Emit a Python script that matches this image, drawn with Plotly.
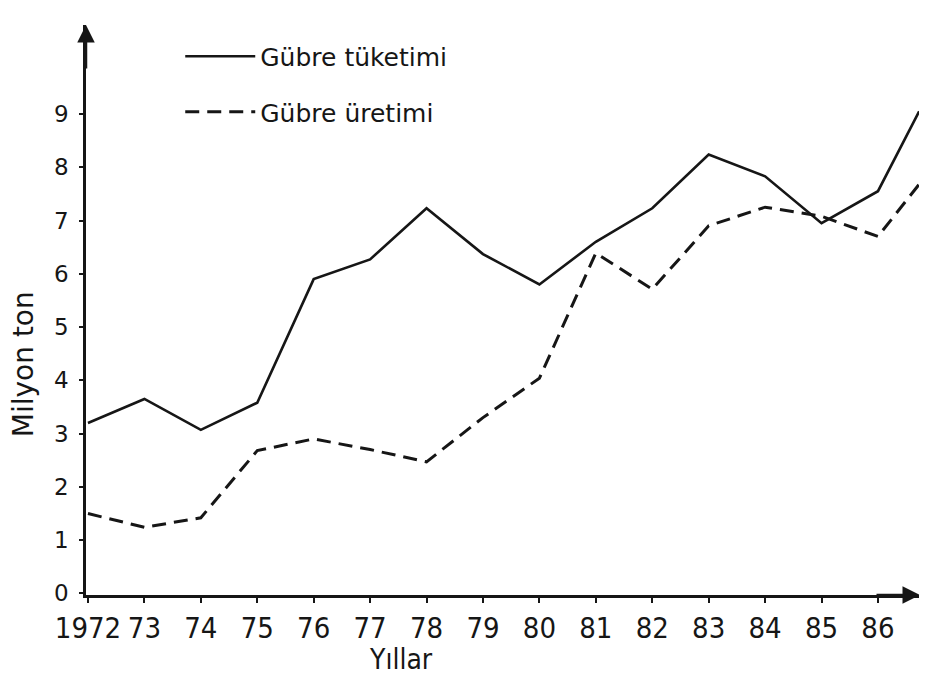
import plotly.graph_objects as go

# Data (million tons)
years = [1972, 1973, 1974, 1975, 1976, 1977, 1978, 1979, 1980, 1981, 1982, 1983, 1984, 1985, 1986, 1986.73]
consumption = [3.2, 3.65, 3.07, 3.58, 5.9, 6.27, 7.23, 6.37, 5.8, 6.6, 7.23, 8.24, 7.83, 6.95, 7.55, 9.05]
production = [1.5, 1.24, 1.42, 2.68, 2.9, 2.7, 2.47, 3.3, 4.04, 6.39, 5.71, 6.9, 7.25, 7.08, 6.7, 7.68]

tick_years = [1972, 1973, 1974, 1975, 1976, 1977, 1978, 1979, 1980, 1981, 1982, 1983, 1984, 1985, 1986]
tick_labels = ["1972", "73", "74", "75", "76", "77", "78", "79", "80", "81", "82", "83", "84", "85", "86"]
y_ticks = [0, 1, 2, 3, 4, 5, 6, 7, 8, 9]

INK = "#161616"
NARROW = "Liberation Sans Narrow, DejaVu Sans Condensed"

fig = go.Figure()
fig.add_trace(go.Scatter(
    x=years, y=consumption, mode="lines", name="Gübre tüketimi",
    line=dict(color=INK, width=2.6), legendgroup="a",
))
fig.add_trace(go.Scatter(
    x=years, y=production, mode="lines", name="Gübre üretimi",
    line=dict(color=INK, width=3, dash="14px,8px"), legendgroup="b",
))

fig.update_layout(
    width=919, height=671,
    margin=dict(l=78, r=7, t=17, b=84),
    paper_bgcolor="white", plot_bgcolor="white",
    showlegend=True,
    legend=dict(
        x=0.113, y=0.985, xanchor="left", yanchor="top",
        font=dict(family="DejaVu Sans", size=25, color=INK),
        itemwidth=70, tracegroupgap=20, bgcolor="rgba(0,0,0,0)",
    ),
    xaxis=dict(
        range=[1971.965, 1986.745],
        tickvals=tick_years, ticktext=tick_labels,
        showline=True, linecolor=INK, linewidth=2.5,
        ticks="outside", ticklen=5, tickwidth=2, tickcolor=INK,
        showgrid=False, zeroline=False, automargin=False,
        tickfont=dict(family=NARROW, size=29, color=INK),
    ),
    yaxis=dict(
        range=[-0.03, 10.67],
        tickvals=y_ticks,
        showline=True, linecolor=INK, linewidth=2.5,
        ticks="outside", ticklen=4, tickwidth=2, tickcolor=INK,
        showgrid=False, zeroline=False, automargin=False,
        ticklabelstandoff=6,
        tickfont=dict(family="DejaVu Sans", size=23, color=INK),
    ),
    annotations=[
        dict(xref="paper", yref="paper", x=0, y=1, ax=0, ay=45, axref="pixel", ayref="pixel",
             text="", showarrow=True, arrowhead=2, arrowsize=1.4, arrowwidth=2.5, arrowcolor=INK),
        dict(xref="paper", yref="paper", x=1, y=0, ax=-45, ay=0, axref="pixel", ayref="pixel",
             text="", showarrow=True, arrowhead=2, arrowsize=1.4, arrowwidth=2.5, arrowcolor=INK),
        dict(xref="paper", yref="paper", x=-0.0755, y=0.405, xanchor="center", yanchor="middle",
             text="Milyon ton", textangle=-90,
             showarrow=False, font=dict(family="DejaVu Sans", size=28, color=INK)),
        dict(xref="paper", yref="paper", x=0.378, y=-0.114, xanchor="center", yanchor="middle",
             text="Yıllar",
             showarrow=False, font=dict(family=NARROW, size=28, color=INK)),
    ],
)

fig.write_html("out.html")
